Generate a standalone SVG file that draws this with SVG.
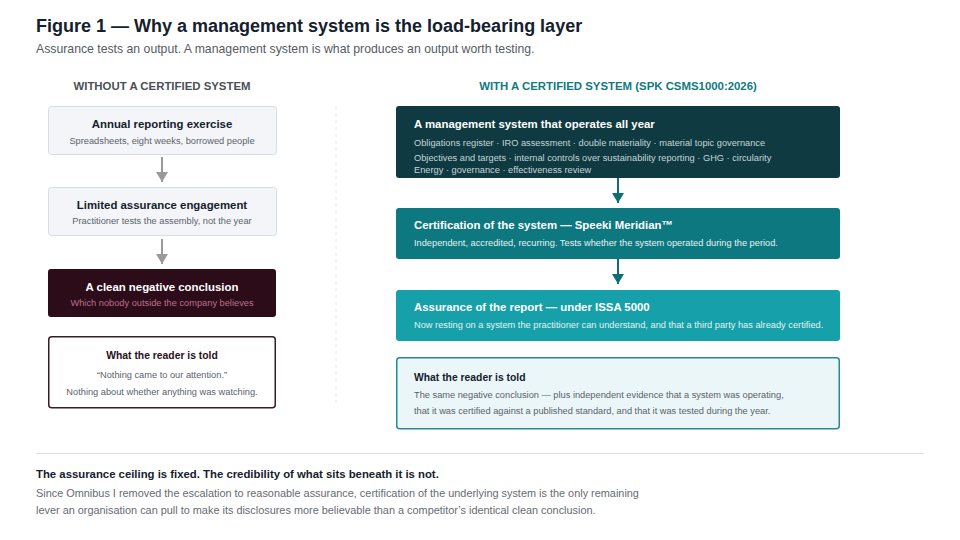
<svg xmlns="http://www.w3.org/2000/svg" width="960" height="540" viewBox="0 0 960 540">
<defs>
<style>
text{font-family:"Liberation Sans",Arial,sans-serif}
.title{font-size:18px;font-weight:bold;fill:#15202d}
.sub{font-size:12.25px;fill:#555b63}
.colL{font-size:11.4px;font-weight:bold;fill:#4a4f57}
.colR{font-size:11.4px;font-weight:bold;fill:#117a80}
.lb{fill:#f3f5f8;stroke:#d6dde5;stroke-width:1}
.lt{font-size:11.4px;font-weight:bold;fill:#15202d}
.ls{font-size:9.25px;fill:#5b626b}
.rt{font-size:11.4px;font-weight:bold;fill:#ffffff}
.rs{font-size:9.25px;fill:#c3d6d9}
.rs2{font-size:9.25px;fill:#e3f2f3}
.rd{font-size:10.35px;font-weight:bold}
.foot{font-size:11.35px;font-weight:bold;fill:#15202d}
.body{font-size:10.9px;fill:#666b72}
</style>
</defs>
<rect width="960" height="540" fill="#fff"/>
<text class="title" x="36" y="32">Figure 1 — Why a management system is the load-bearing layer</text>
<text class="sub" x="36" y="53">Assurance tests an output. A management system is what produces an output worth testing.</text>

<text class="colL" x="162" y="90" text-anchor="middle">WITHOUT A CERTIFIED SYSTEM</text>
<text class="colR" x="618" y="90" text-anchor="middle">WITH A CERTIFIED SYSTEM (SPK CSMS1000:2026)</text>

<line x1="336" y1="106" x2="336" y2="405" stroke="#e2e4e8" stroke-width="1" stroke-dasharray="3,4"/>

<g id="connectors">
<line x1="162" y1="157" x2="162" y2="182" stroke="#9a9a9a" stroke-width="2"/>
<path d="M156,172 L168,172 L162,182 Z" fill="#9a9a9a"/>
<line x1="162" y1="239" x2="162" y2="264" stroke="#9a9a9a" stroke-width="2"/>
<path d="M156,254 L168,254 L162,264 Z" fill="#9a9a9a"/>
<line x1="618" y1="178" x2="618" y2="203" stroke="#0e6e77" stroke-width="2"/>
<path d="M612,193 L624,193 L618,203 Z" fill="#0e6e77"/>
<line x1="618" y1="259" x2="618" y2="284" stroke="#0e6e77" stroke-width="2"/>
<path d="M612,274 L624,274 L618,284 Z" fill="#0e6e77"/>
</g>

<g id="annual">
<rect class="lb" x="48.5" y="106.5" width="228" height="48" rx="3"/>
<text class="lt" x="162" y="128" text-anchor="middle">Annual reporting exercise</text>
<text class="ls" x="162" y="144" text-anchor="middle">Spreadsheets, eight weeks, borrowed people</text>
</g>
<g id="limited">
<rect class="lb" x="48.5" y="187.5" width="228" height="48" rx="3"/>
<text class="lt" x="162" y="209" text-anchor="middle">Limited assurance engagement</text>
<text class="ls" x="162" y="224" text-anchor="middle">Practitioner tests the assembly, not the year</text>
</g>
<g id="clean">
<rect x="48" y="269" width="228" height="48" rx="3" fill="#2d0c19"/>
<text class="rt" x="162" y="291" text-anchor="middle">A clean negative conclusion</text>
<text x="162" y="306" text-anchor="middle" font-size="9.25" fill="#b9708c">Which nobody outside the company believes</text>
</g>
<g id="reader-left">
<rect x="48.75" y="336.75" width="226.5" height="71" rx="3" fill="#fff" stroke="#3a1b28" stroke-width="1.5"/>
<text class="rd" x="162" y="359" text-anchor="middle" fill="#2a0f1c">What the reader is told</text>
<text class="ls" x="162" y="378" text-anchor="middle">“Nothing came to our attention.”</text>
<text class="ls" x="162" y="395" text-anchor="middle">Nothing about whether anything was watching.</text>
</g>

<g id="system">
<rect x="396" y="106" width="444" height="72" rx="3" fill="#0f3a41"/>
<text class="rt" x="414" y="128">A management system that operates all year</text>
<text class="rs" x="414" y="146">Obligations register · IRO assessment · double materiality · material topic governance</text>
<text class="rs" x="414" y="161">Objectives and targets · internal controls over sustainability reporting · GHG · circularity</text>
<text class="rs" x="414" y="173">Energy · governance · effectiveness review</text>
</g>
<g id="certification">
<rect x="396" y="208" width="444" height="51" rx="3" fill="#0e7880"/>
<text class="rt" x="414" y="229">Certification of the system — Speeki Meridian™</text>
<text class="rs2" x="414" y="246">Independent, accredited, recurring. Tests whether the system operated during the period.</text>
</g>
<g id="assurance">
<rect x="396" y="290" width="444" height="51" rx="3" fill="#16a0aa"/>
<text class="rt" x="414" y="311">Assurance of the report — under ISSA 5000</text>
<text class="rs2" x="414" y="328">Now resting on a system the practitioner can understand, and that a third party has already certified.</text>
</g>
<g id="reader-right">
<rect x="396.75" y="357.75" width="442.5" height="71" rx="3" fill="#eaf6f7" stroke="#2b8a90" stroke-width="1.5"/>
<text class="rd" x="414" y="381" fill="#15202d">What the reader is told</text>
<text class="ls" x="414" y="398">The same negative conclusion — plus independent evidence that a system was operating,</text>
<text class="ls" x="414" y="414">that it was certified against a published standard, and that it was tested during the year.</text>
</g>

<line x1="36" y1="453.5" x2="924" y2="453.5" stroke="#dcdcdc" stroke-width="1"/>
<text class="foot" x="36" y="478">The assurance ceiling is fixed. The credibility of what sits beneath it is not.</text>
<text class="body" x="36" y="497">Since Omnibus I removed the escalation to reasonable assurance, certification of the underlying system is the only remaining</text>
<text class="body" x="36" y="514">lever an organisation can pull to make its disclosures more believable than a competitor’s identical clean conclusion.</text>
</svg>
